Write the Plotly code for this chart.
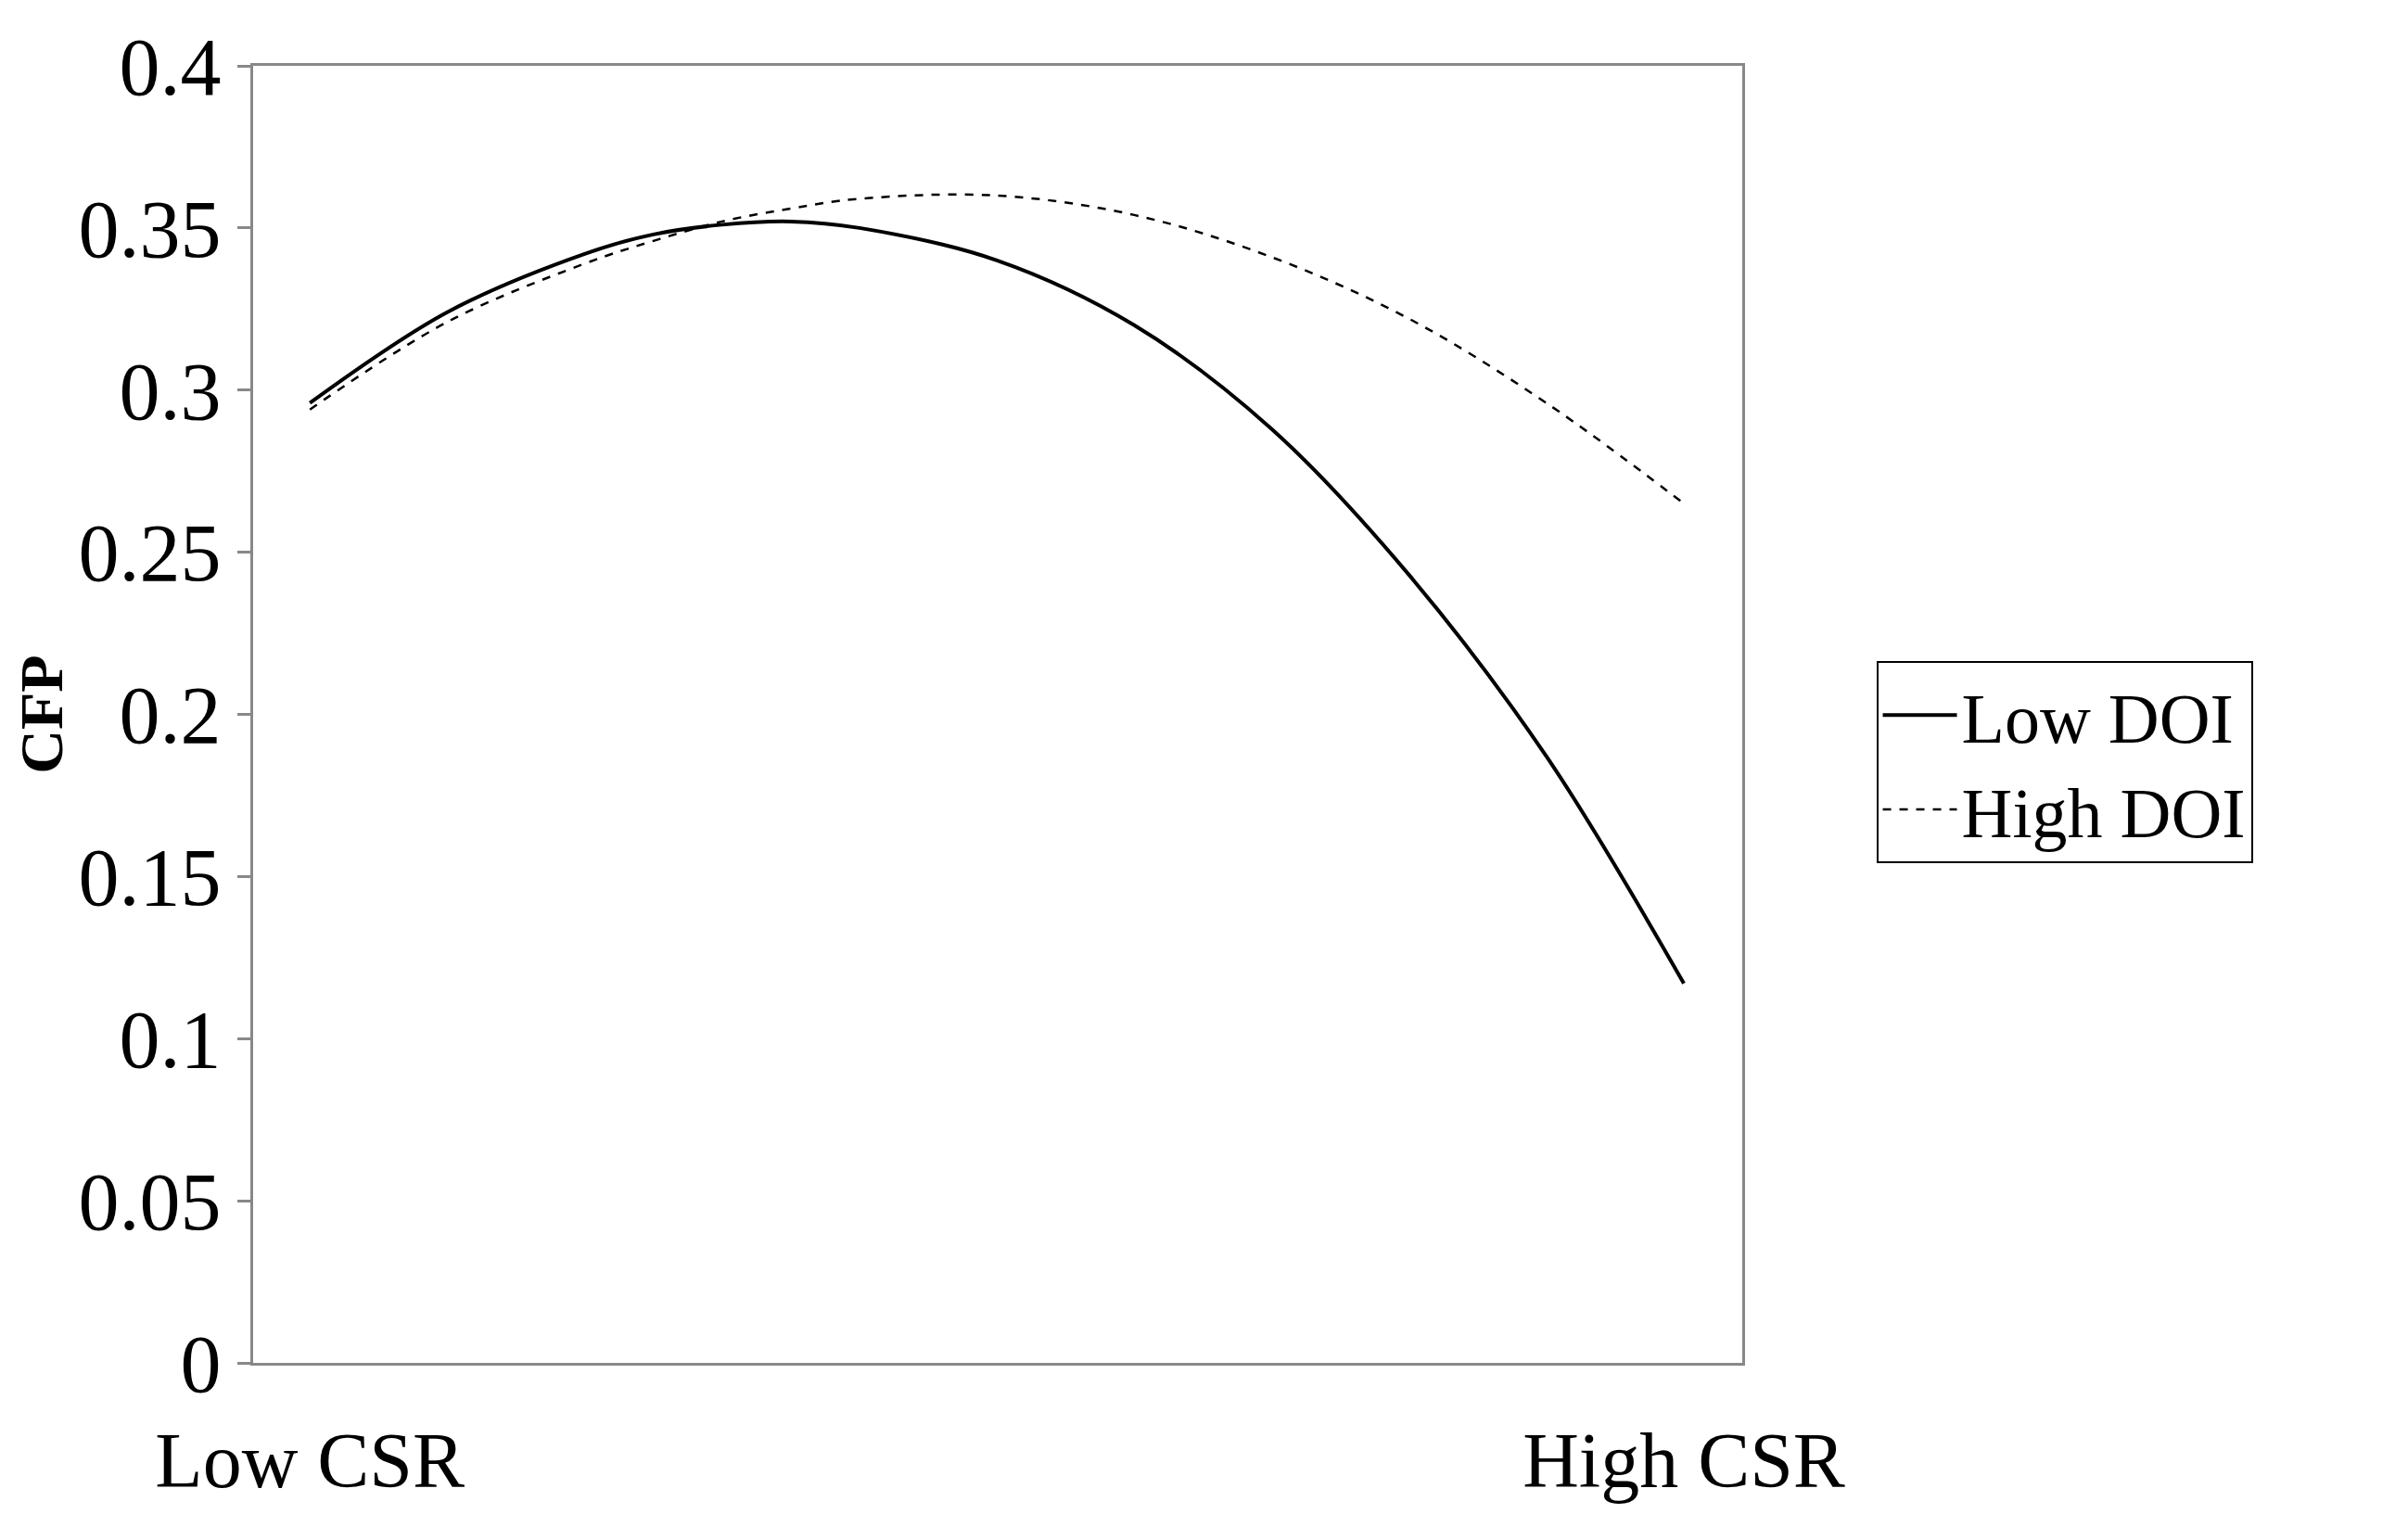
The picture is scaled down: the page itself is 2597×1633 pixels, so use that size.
import plotly.graph_objects as go

csr = [0, 0.1, 0.2, 0.25, 0.3, 0.35, 0.4, 0.5, 0.6, 0.7, 0.8, 0.9, 1.0]
low_doi = [0.296, 0.324, 0.342, 0.348, 0.351, 0.352, 0.350, 0.340, 0.320, 0.288, 0.243, 0.187, 0.117]
high_doi = [0.294, 0.321, 0.339, 0.346, 0.352, 0.356, 0.359, 0.360, 0.354, 0.341, 0.322, 0.296, 0.265]
x_ticks = [0, 1]
x_labels = ["Low CSR", "High CSR"]
y_ticks = [0, 0.05, 0.1, 0.15, 0.2, 0.25, 0.3, 0.35, 0.4]
y_labels = ["0", "0.05", "0.1", "0.15", "0.2", "0.25", "0.3", "0.35", "0.4"]

font = "Liberation Serif"
fig = go.Figure()
fig.add_trace(go.Scatter(x=csr, y=low_doi, mode="lines", name="Low DOI",
                         line=dict(color="black", width=4, shape="spline", smoothing=1.0)))
fig.add_trace(go.Scatter(x=csr, y=high_doi, mode="lines", name="High DOI",
                         line=dict(color="black", width=2.5, dash="dash", shape="spline", smoothing=1.0)))
fig.update_layout(
    width=2597, height=1633, plot_bgcolor="white", paper_bgcolor="white",
    margin=dict(l=265, r=726, t=63, b=171),
    font=dict(family=font, size=84, color="black"),
    legend=dict(x=1.09, y=0.463, xanchor="left", yanchor="middle",
                bordercolor="black", borderwidth=2, font=dict(size=76),
                itemwidth=80),
    xaxis=dict(range=[-0.0413, 1.0425], tickvals=x_ticks, ticktext=x_labels,
               showgrid=False, zeroline=False, showline=True, linecolor="#888", linewidth=3,
               mirror=True, ticks="", ticklabelstandoff=30, tickfont=dict(size=84)),
    yaxis=dict(range=[0, 0.4], tickvals=y_ticks, ticktext=y_labels,
               showgrid=False, zeroline=False, showline=True, linecolor="#888", linewidth=3,
               mirror=True, ticks="outside", ticklen=14, tickcolor="#888", tickwidth=3,
               tickfont=dict(size=88),
               title=dict(text="<b>CFP</b>", standoff=0, font=dict(size=66))),
)
fig.write_html("out.html")
